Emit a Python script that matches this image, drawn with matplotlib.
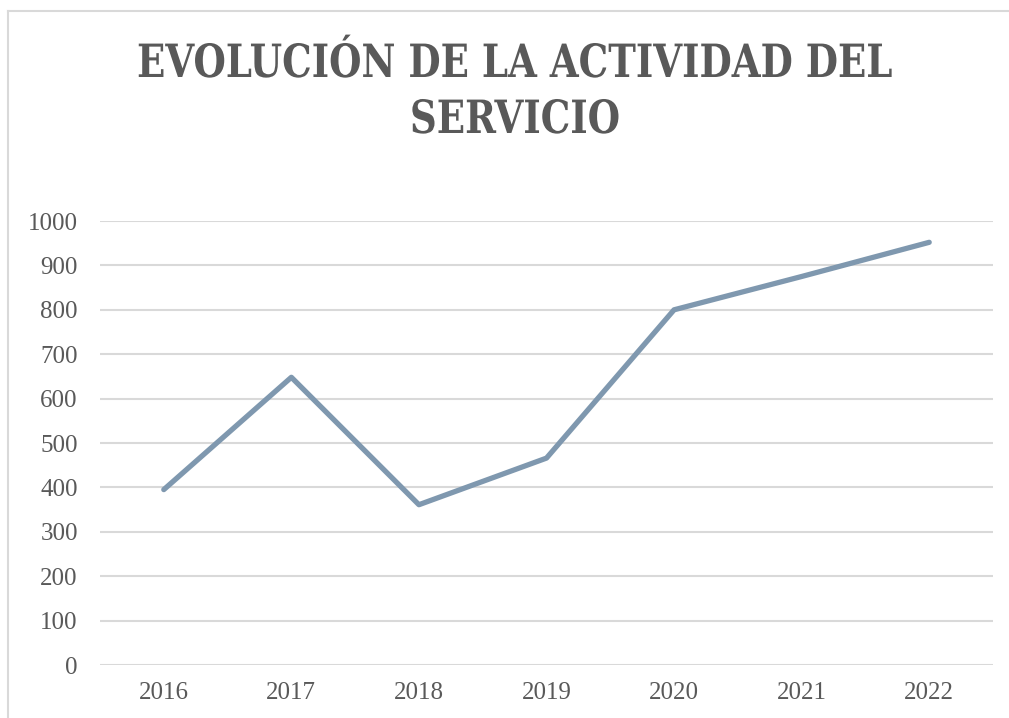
import matplotlib
matplotlib.use("Agg")
import matplotlib.pyplot as plt
from matplotlib.lines import Line2D
from matplotlib.patheffects import AbstractPathEffect
from matplotlib.transforms import Affine2D

years = ["2016", "2017", "2018", "2019", "2020", "2021", "2022"]
activity = [395, 648, 361, 466, 800, 875, 952]
yticks = [0, 100, 200, 300, 400, 500, 600, 700, 800, 900, 1000]
title_lines = ["EVOLUCIÓN DE LA ACTIVIDAD DEL", "SERVICIO"]

TEXT = "#595959"
W, H = 1009, 718


class HSqueeze(AbstractPathEffect):
    """Narrow the glyphs horizontally about the centre of each drawn line."""

    def __init__(self, sx):
        super().__init__()
        self.sx = sx

    def draw_path(self, renderer, gc, tpath, affine, rgbFace=None):
        ext = tpath.get_extents(affine)
        cx = 0.5 * (ext.x0 + ext.x1)
        aff = affine + Affine2D().translate(-cx, 0).scale(self.sx, 1).translate(cx, 0)
        renderer.draw_path(gc, tpath, aff, rgbFace)


fig = plt.figure(figsize=(W / 100, H / 100), dpi=100)
fig.patch.set_facecolor("white")

ax = fig.add_axes([100 / W, (H - 665) / H, (993 - 100) / W, (665 - 221) / H])
x = list(range(len(years)))
ax.plot(x, activity, color="#7F98AF", linewidth=3.8, solid_capstyle="round",
        solid_joinstyle="round", zorder=3)
ax.set_xlim(-0.5, len(years) - 0.5)
ax.set_ylim(0, 1000)
ax.set_yticks(yticks)
ax.set_xticks(x)
ax.set_xticklabels(years)
ax.grid(axis="y", color="#D9D9D9", linewidth=1.5)
ax.set_axisbelow(True)
for s in ax.spines.values():
    s.set_visible(False)
ax.tick_params(length=0)
ax.tick_params(axis="y", pad=16, labelsize=18, labelcolor=TEXT)
ax.tick_params(axis="x", pad=12, labelsize=18, labelcolor=TEXT)
for lab in ax.get_yticklabels() + ax.get_xticklabels():
    lab.set_fontfamily("Liberation Serif")

# title, two lines, condensed to the reference width
t1 = fig.text(515 / W, 1 - 77 / H, title_lines[0], ha="center", va="baseline",
              fontsize=33, fontweight="bold", family="DejaVu Serif",
              fontstretch="condensed", color=TEXT)
t2 = fig.text(515 / W, 1 - 133 / H, title_lines[1], ha="center", va="baseline",
              fontsize=33, fontweight="bold", family="DejaVu Serif",
              fontstretch="condensed", color=TEXT)
fig.canvas.draw()
w1 = t1.get_window_extent().width
sx = min(1.0, 756.0 / w1)
for t in (t1, t2):
    t.set_path_effects([HSqueeze(sx)])

# light border of the chart frame
fig.add_artist(Line2D([8 / W, 8 / W], [0, 1 - 11 / H], transform=fig.transFigure,
                      color="#D9D9D9", linewidth=1.5))
fig.add_artist(Line2D([8 / W, 1], [1 - 11 / H, 1 - 11 / H], transform=fig.transFigure,
                      color="#D9D9D9", linewidth=1.5))

fig.savefig("out.png", dpi=100, facecolor="white")
